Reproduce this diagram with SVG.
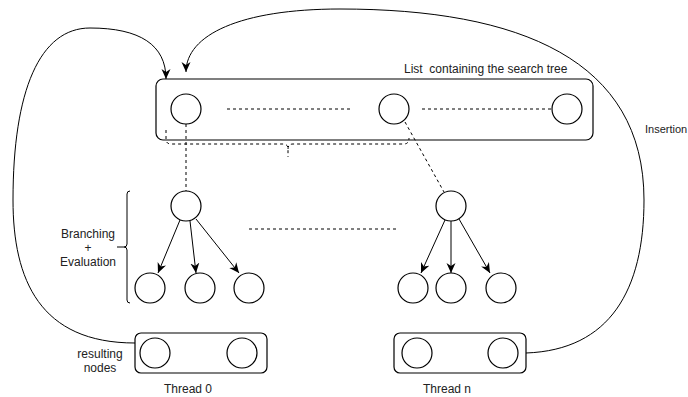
<svg xmlns="http://www.w3.org/2000/svg" width="688" height="397" viewBox="0 0 688 397">
<style>
.n{fill:#fff;stroke:#000;stroke-width:1.2}
.box{fill:none;stroke:#000;stroke-width:1.2}
.e{fill:none;stroke:#000;stroke-width:1}
.d{fill:none;stroke:#000;stroke-width:1;stroke-dasharray:3 3}
text{font-family:"Liberation Sans",Arial,sans-serif;font-size:12px;fill:#222;white-space:pre}
.c{text-anchor:middle}
</style>
<defs>
<marker id="a" markerUnits="userSpaceOnUse" markerWidth="12" markerHeight="10" refX="10" refY="4.5" orient="auto" viewBox="0 0 12 9">
<path d="M0,0 L10,4.5 L0,9 L3,4.5 z" fill="#000"/>
</marker>
</defs>
<rect width="688" height="397" fill="#fff"/>
<g id="list">
<rect class="box" x="156" y="79" width="437" height="61" rx="7"/>
<text x="404" y="73" xml:space="preserve">List  containing the search tree</text>
</g>
<g id="l1"><circle class="n" cx="186" cy="109" r="15"/></g>
<g id="l2"><circle class="n" cx="394" cy="109" r="15"/></g>
<g id="l3"><circle class="n" cx="567" cy="109" r="15"/></g>
<g id="r0"><circle class="n" cx="186" cy="206" r="15"/></g>
<g id="c0a"><circle class="n" cx="150" cy="288" r="15"/></g>
<g id="c0b"><circle class="n" cx="200" cy="288" r="15"/></g>
<g id="c0c"><circle class="n" cx="249" cy="288" r="15"/></g>
<g id="rn"><circle class="n" cx="451" cy="206" r="15"/></g>
<g id="cna"><circle class="n" cx="413" cy="288" r="15"/></g>
<g id="cnb"><circle class="n" cx="451" cy="288" r="15"/></g>
<g id="cnc"><circle class="n" cx="501" cy="288" r="15"/></g>
<g id="t0">
<rect class="box" x="135" y="333" width="132" height="40" rx="6"/>
<circle class="n" cx="155" cy="353" r="15"/>
<circle class="n" cx="242" cy="353" r="15"/>
<text class="c" x="188" y="393">Thread 0</text>
</g>
<g id="tn">
<rect class="box" x="394" y="333" width="132" height="40" rx="6"/>
<circle class="n" cx="417" cy="353" r="15"/>
<circle class="n" cx="503" cy="353" r="15"/>
<text class="c" x="447" y="393">Thread n</text>
</g>
<g id="labels">
<text class="c" x="88" y="238">Branching</text>
<text class="c" x="88" y="252">+</text>
<text class="c" x="88" y="266">Evaluation</text>
<text class="c" x="100" y="358">resulting</text>
<text class="c" x="100" y="372">nodes</text>
<text x="645" y="133" style="font-size:11px">Insertion</text>
</g>
<g id="connectors">
<path class="d" d="M227,109 H352"/>
<path class="d" d="M422,109 H551"/>
<path class="d" d="M249,229 H399"/>
<path class="d" d="M186,124 V191"/>
<path class="d" d="M405,122 L444,192"/>
<path class="d" d="M166,130 V139 Q166,144 171,144 H283 Q288,144 288,149 V157 M288,149 Q288,144 293,144 H404 Q409,144 409,138"/>
<path class="e" d="M130,191 Q127,191 127,194 V244 Q127,247 124,247 H117 M124,247 Q127,247 127,250 V300 Q127,303 130,303"/>
<path class="e" marker-end="url(#a)" d="M180,220 L158,273"/>
<path class="e" marker-end="url(#a)" d="M190,221 L196,273"/>
<path class="e" marker-end="url(#a)" d="M196,219 L239,273"/>
<path class="e" marker-end="url(#a)" d="M445,220 L421,273"/>
<path class="e" marker-end="url(#a)" d="M451,221 L451,273"/>
<path class="e" marker-end="url(#a)" d="M459,219 L490,273"/>
<path class="e" marker-end="url(#a)" d="M135,343 C40,343 13,280 13,200 C13,90 40,28 90,28 C140,28 166,45 166,79"/>
<path class="e" marker-end="url(#a)" d="M526,353 C610,350 644,290 644,200 C644,60 520,9 340,9 C240,9 186,35 186,72"/>
</g>
</svg>
